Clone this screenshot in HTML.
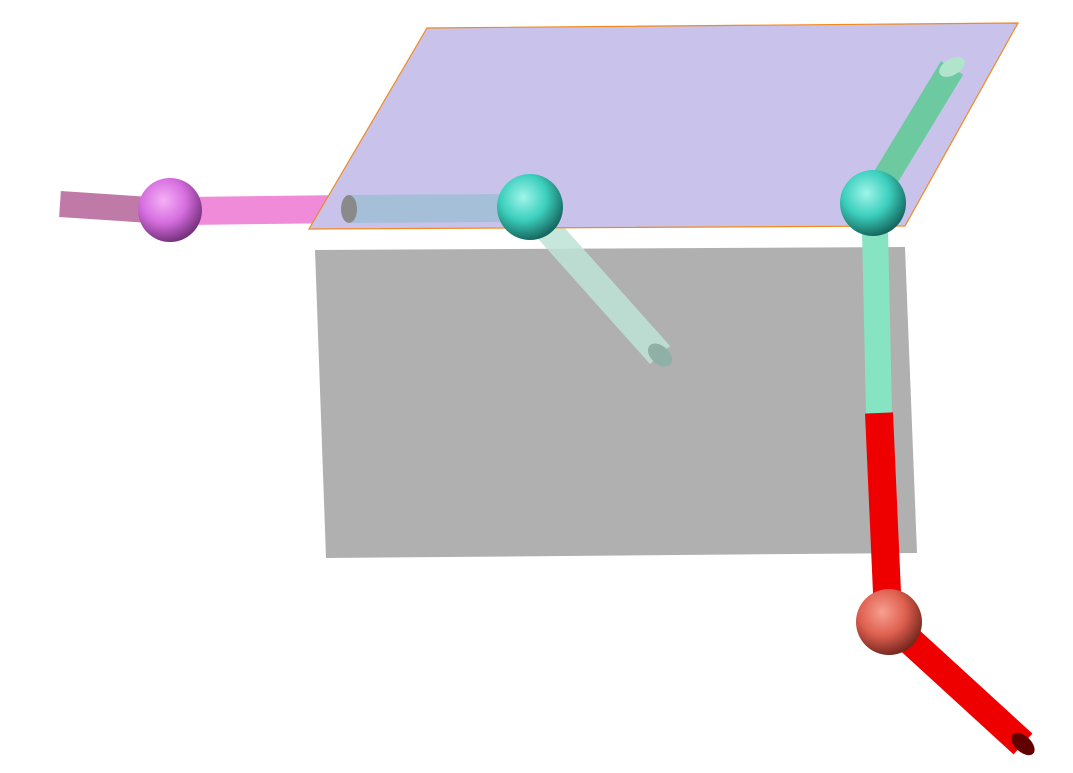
<!DOCTYPE html>
<html><head><meta charset="utf-8"><style>html,body{margin:0;padding:0;background:#fff}svg{display:block}</style></head>
<body>
<svg width="1073" height="773" viewBox="0 0 1073 773">
<defs>
<radialGradient id="gPink" cx="0.4" cy="0.35" r="0.7"><stop offset="0" stop-color="#f6b0f6"/><stop offset="0.5" stop-color="#d66ee0"/><stop offset="1" stop-color="#6a2a70"/></radialGradient>
<radialGradient id="gTeal" cx="0.4" cy="0.35" r="0.7"><stop offset="0" stop-color="#9ff5ea"/><stop offset="0.5" stop-color="#3ccfbd"/><stop offset="1" stop-color="#105a52"/></radialGradient>
<radialGradient id="gRed" cx="0.4" cy="0.35" r="0.7"><stop offset="0" stop-color="#f7a090"/><stop offset="0.5" stop-color="#df6050"/><stop offset="1" stop-color="#6a2018"/></radialGradient>
</defs>
<polygon points="315,250 905,247 917,553 326,558" fill="#b0b0b0"/>
<line x1="535" y1="215" x2="660" y2="355" stroke="#bfe3d7" stroke-width="27" opacity="0.85"/>
<ellipse cx="660" cy="355" rx="9" ry="14" transform="rotate(-48 660 355)" fill="#8fb0a6"/>
<line x1="60" y1="204" x2="150" y2="210" stroke="#c07aa8" stroke-width="26"/>
<line x1="185" y1="211" x2="350" y2="209" stroke="#ef8bd8" stroke-width="28"/>
<line x1="875" y1="230" x2="879" y2="413" stroke="#86e4c2" stroke-width="26"/>
<line x1="879" y1="413" x2="888" y2="615" stroke="#ee0000" stroke-width="28"/>
<line x1="893" y1="625" x2="1023" y2="744" stroke="#ee0000" stroke-width="28"/>
<ellipse cx="1023" cy="744" rx="8" ry="14" transform="rotate(-47 1023 744)" fill="#600000"/>
<circle cx="889" cy="622" r="33" fill="url(#gRed)"/>
<polygon points="427,28 1018,23 905,226 309,229" fill="#c9c3ec" stroke="#f08a20" stroke-width="1.2"/>
<line x1="350" y1="209" x2="510" y2="208" stroke="#a6bfd9" stroke-width="28"/>
<ellipse cx="349" cy="209" rx="8" ry="14" fill="#8a8a8a"/>
<line x1="878" y1="190" x2="952" y2="68" stroke="#6dc9a0" stroke-width="26"/>
<ellipse cx="952" cy="67" rx="14" ry="8" transform="rotate(-30 952 67)" fill="#b0e5cc"/>
<circle cx="170" cy="210" r="32" fill="url(#gPink)"/>
<circle cx="530" cy="207" r="33" fill="url(#gTeal)"/>
<circle cx="873" cy="203" r="33" fill="url(#gTeal)"/>
</svg>
</body></html>
